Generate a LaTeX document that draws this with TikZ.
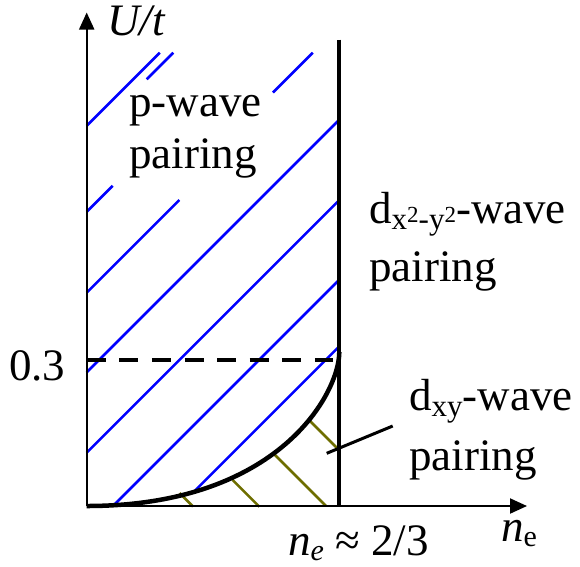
\documentclass[tikz,border=0pt]{standalone}
\usepackage{fontspec}
\setmainfont{Liberation Serif}
\usetikzlibrary{arrows.meta}
\definecolor{hatchblue}{RGB}{0,0,255}
\definecolor{hatcholive}{RGB}{110,110,0}
\begin{document}
\begin{tikzpicture}[x=1pt,y=-1pt,
  axis/.style={line width=2pt, -{Triangle[length=17pt,width=15pt]}},
  bluehatch/.style={hatchblue, line width=2.5pt},
  olivehatch/.style={hatcholive, line width=2.5pt},
  boundary/.style={line width=4pt},
  dashline/.style={line width=4.3pt, dash pattern=on 19pt off 13.6pt},
  leader/.style={line width=3pt},
  lbl/.style={inner sep=0pt, anchor=base west, font=\fontsize{45}{52}\selectfont}]
\useasboundingbox (0,0) rectangle (580,566);
% key coordinates
\coordinate (O) at (86.7,506);
\coordinate (ytip) at (86.7,12.5);
\coordinate (xtip) at (527,506);
\coordinate (top) at (339.3,39.5);
\coordinate (bot) at (339.3,506);
\coordinate (cend) at (339.3,352);
\coordinate (d0) at (86.7,360);
\coordinate (d1) at (333.3,360);
\coordinate (lead0) at (326.7,453.3);
\coordinate (lead1) at (392.7,426);
% blue hatching
\draw[bluehatch] (86.7,125.8) -- (159.8,52.7);
\draw[bluehatch] (146.7,79.3) -- (173.3,52.7);
\draw[bluehatch] (273,92.5) -- (312.8,52.7);
\draw[bluehatch] (86.7,211.8) -- (112.7,185.8);
\draw[bluehatch] (86.7,292.6) -- (179.3,200);
\draw[bluehatch] (86.7,372.3) -- (339.3,119.7);
\draw[bluehatch] (86.7,452.7) -- (339.3,200.1);
\draw[bluehatch] (113.3,505.7) -- (339.3,279.7);
\draw[bluehatch] (193.3,492.3) -- (339.3,346.3);
% olive hatching
\draw[olivehatch] (179.5,493) -- (193,506.5);
\draw[olivehatch] (232.7,480) -- (259.3,506.7);
\draw[olivehatch] (273.3,453.3) -- (326,506);
\draw[olivehatch] (310,421) -- (339.3,450.3);
% boundaries
\draw[line width=4.5pt] (O) .. controls (279,506) and (339.3,393) .. (cend);
\draw[dashline] (d0) -- (d1);
\draw[boundary] (top) -- (bot);
\draw[leader] (lead0) -- (lead1);
% axes
\draw[axis] (O) -- (ytip);
\draw[axis] (O) -- (xtip);
% labels
\node[lbl] (ut) at (107,35) {\textit{U/t}};
\node[lbl] (pw1) at (129,116.7) {p-wave};
\node[lbl] (pw2) at (129,168.3) {pairing};
\node[lbl] (dd1) at (369,223.3) {d\raisebox{-6pt}{\fontsize{31}{31}\selectfont x\raisebox{6.5pt}{\fontsize{23}{23}\selectfont 2}-y\raisebox{6.5pt}{\fontsize{23}{23}\selectfont 2}}-wave};
\node[lbl] (dd2) at (369,281.7) {pairing};
\node[lbl] (dx1) at (409,410) {d\raisebox{-6.5pt}{\fontsize{31}{31}\selectfont xy}-wave};
\node[lbl] (dx2) at (409,470) {pairing};
\node[lbl] (v03) at (9,380) {0.3};
\node[lbl] (nc) at (288,555.5) {\textit{n}\raisebox{-5pt}{\fontsize{30}{30}\selectfont\textit{e}} ≈ 2/3};
\node[lbl] (nx) at (501,541.7) {\textit{n}\raisebox{-5pt}{\fontsize{30}{30}\selectfont e}};
\end{tikzpicture}
\end{document}
